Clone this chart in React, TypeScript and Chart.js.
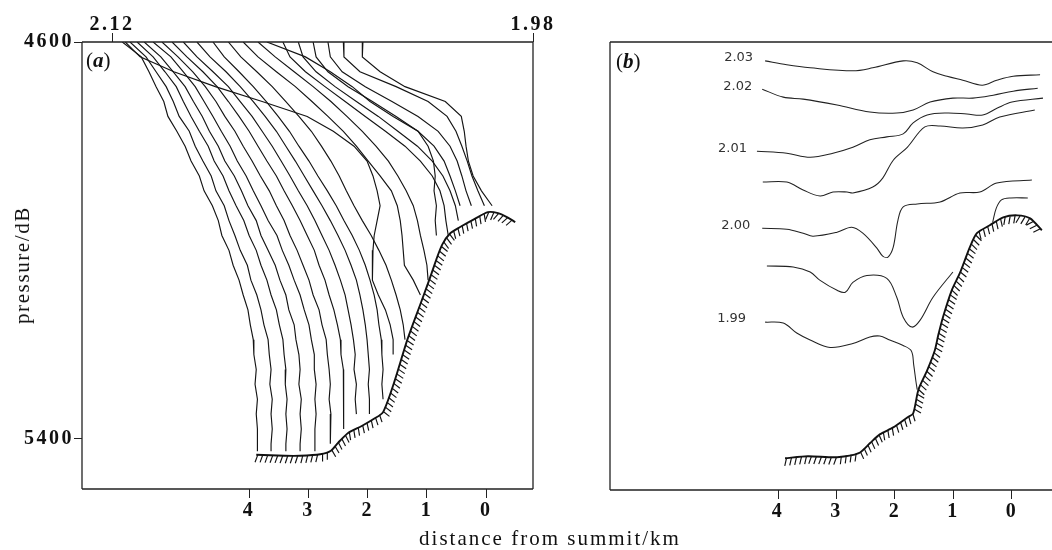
import React, { useEffect, useRef } from 'react';
import { Chart, registerables } from 'chart.js';

Chart.register(...registerables);

// ---------- Panel (a): pressure levels shared by the profiles (dB) ----------
const pressureLevels = [4600, 4630, 4660, 4690, 4720, 4750, 4780, 4810, 4840, 4870, 4900, 4930, 4960, 4990,
  5020, 5050, 5080, 5110, 5140, 5170, 5200, 5230, 5260, 5290, 5320, 5350, 5380, 5410, 5425];

// ---------- Panel (a): profile positions (km from summit) at each pressure level ----------
const profile00 = [6.14, 5.82, 5.69, 5.57, 5.44, 5.37, 5.22, 5.08, 4.98, 4.84, 4.76, 4.62, 4.52, 4.46, 4.34, 4.27, 4.17, 4.10, 4.02, 3.98, 3.93, 3.92, 3.88, 3.90, 3.86, 3.88, 3.86, 3.86, 3.86];
const profile01 = [6.01, 5.74, 5.57, 5.40, 5.28, 5.18, 5.01, 4.91, 4.78, 4.64, 4.56, 4.42, 4.34, 4.24, 4.15, 4.03, 3.97, 3.87, 3.80, 3.75, 3.68, 3.66, 3.63, 3.65, 3.61, 3.63, 3.61, 3.63, 3.63];
const profile02 = [5.89, 5.62, 5.42, 5.23, 5.11, 4.98, 4.84, 4.69, 4.59, 4.44, 4.34, 4.22, 4.09, 4.00, 3.88, 3.80, 3.70, 3.63, 3.54, 3.49, 3.43, 3.41, 3.38, 3.39, 3.36, 3.38, 3.36, 3.38, 3.38];
const profile03 = [5.77, 5.49, 5.28, 5.08, 4.94, 4.79, 4.67, 4.52, 4.41, 4.25, 4.13, 4.02, 3.88, 3.80, 3.68, 3.56, 3.48, 3.38, 3.33, 3.24, 3.21, 3.16, 3.14, 3.16, 3.12, 3.14, 3.12, 3.14, 3.14];
const profile04 = [5.62, 5.32, 5.11, 4.91, 4.76, 4.61, 4.47, 4.32, 4.20, 4.05, 3.93, 3.80, 3.68, 3.53, 3.44, 3.33, 3.24, 3.14, 3.07, 2.99, 2.95, 2.90, 2.90, 2.87, 2.89, 2.87, 2.89, 2.89, 2.89];
const profile05 = [5.47, 5.20, 4.95, 4.74, 4.56, 4.41, 4.24, 4.10, 3.95, 3.81, 3.66, 3.54, 3.41, 3.31, 3.19, 3.09, 2.99, 2.92, 2.82, 2.77, 2.70, 2.68, 2.65, 2.63, 2.65, 2.62, 2.63, 2.63];
const profile06 = [5.30, 5.05, 4.78, 4.54, 4.35, 4.17, 4.00, 3.85, 3.70, 3.54, 3.41, 3.27, 3.14, 3.02, 2.90, 2.82, 2.72, 2.65, 2.57, 2.51, 2.46, 2.45, 2.41, 2.41, 2.40, 2.41, 2.40];
const profile07 = [5.11, 4.88, 4.61, 4.35, 4.15, 3.95, 3.78, 3.61, 3.46, 3.31, 3.17, 3.02, 2.89, 2.77, 2.65, 2.55, 2.46, 2.38, 2.33, 2.28, 2.24, 2.21, 2.23, 2.19, 2.21, 2.19];
const profile08 = [4.88, 4.66, 4.39, 4.15, 3.93, 3.73, 3.54, 3.38, 3.22, 3.07, 2.92, 2.77, 2.63, 2.50, 2.38, 2.28, 2.19, 2.13, 2.08, 2.04, 2.01, 1.99, 1.97, 1.99, 1.97, 1.97];
const profile09 = [4.61, 4.42, 4.17, 3.93, 3.71, 3.51, 3.32, 3.16, 2.99, 2.84, 2.68, 2.53, 2.40, 2.26, 2.14, 2.04, 1.96, 1.89, 1.84, 1.81, 1.77, 1.76, 1.74, 1.76, 1.74];
const profile10 = [6.09, 5.84, 5.27, 4.57, 3.78, 3.02, 2.58, 2.23, 2.01, 1.91, 1.84, 1.79, 1.84, 1.89, 1.91, 1.92, 1.92, 1.82, 1.70, 1.62, 1.57, 1.57];
const profile11 = [4.35, 4.14, 3.87, 3.61, 3.38, 3.16, 2.95, 2.78, 2.62, 2.48, 2.36, 2.23, 2.09, 1.94, 1.81, 1.69, 1.60, 1.52, 1.45, 1.40, 1.37];
const profile12 = [4.10, 3.85, 3.54, 3.22, 2.94, 2.67, 2.41, 2.19, 1.99, 1.79, 1.60, 1.50, 1.45, 1.42, 1.40, 1.38, 1.23, 1.11];
const profile13 = [3.85, 3.56, 3.24, 2.92, 2.62, 2.35, 2.09, 1.86, 1.65, 1.49, 1.35, 1.23, 1.16, 1.11, 1.05, 1.00, 0.98];
const profile14 = [3.70, 3.05, 2.63, 2.26, 1.96, 1.57, 1.15, 0.98, 0.89, 0.86, 0.88, 0.84, 0.86, 0.84];
const profile15 = [3.43, 3.31, 3.05, 2.72, 2.38, 2.04, 1.70, 1.37, 1.11, 0.91, 0.78, 0.71, 0.68, 0.64];
const profile16 = [3.17, 3.09, 2.87, 2.55, 2.19, 1.82, 1.49, 1.16, 0.91, 0.73, 0.61, 0.52, 0.47];
const profile17 = [2.92, 2.87, 2.67, 2.33, 1.92, 1.52, 1.15, 0.88, 0.71, 0.61, 0.52, 0.44];
const profile18 = [2.67, 2.63, 2.43, 2.04, 1.59, 1.15, 0.81, 0.61, 0.49, 0.41, 0.34, 0.25];
const profile19 = [2.41, 2.40, 2.13, 1.52, 0.98, 0.66, 0.51, 0.41, 0.32, 0.24, 0.14, 0.03];
const profile20 = [2.08, 2.09, 1.79, 1.37, 0.69, 0.42, 0.37, 0.34, 0.30, 0.22, 0.08, -0.10];

const profilesA = [profile00, profile01, profile02, profile03, profile04, profile05, profile06, profile07,
  profile08, profile09, profile10, profile11, profile12, profile13, profile14, profile15, profile16,
  profile17, profile18, profile19, profile20];

// ---------- Sea floor (km, dB) ----------
const seafloorADist = [3.88, 3.40, 3.14, 2.80, 2.62, 2.50, 2.33, 2.10, 1.90, 1.74, 1.55, 1.33, 1.10, 0.95, 0.84, 0.74, 0.61, 0.44, 0.20, -0.03, -0.20, -0.35, -0.49];
const seafloorAPres = [5432, 5434, 5434, 5431, 5424, 5408, 5388, 5374, 5360, 5346, 5285, 5200, 5125, 5076, 5038, 5008, 4986, 4973, 4957, 4943, 4945, 4953, 4963];
const seafloorBDist = [3.88, 3.49, 2.99, 2.62, 2.43, 2.26, 2.03, 1.79, 1.69, 1.60, 1.45, 1.32, 1.26, 1.18, 1.03, 0.89, 0.72, 0.60, 0.38, 0.15, -0.09, -0.31, -0.51];
const seafloorBPres = [5438, 5434, 5436, 5428, 5408, 5390, 5376, 5356, 5348, 5300, 5261, 5221, 5190, 5154, 5100, 5065, 5013, 4985, 4969, 4953, 4949, 4955, 4979];

// ---------- Panel (b): potential temperature contours [km, dB] ----------
const contour203 = [[4.22, 4638], [3.85, 4646], [3.45, 4652], [2.72, 4658], [2.38, 4652], [1.86, 4638], [1.62, 4642], [1.35, 4660], [1.11, 4669], [0.84, 4677], [0.51, 4687], [0.26, 4677], [-0.02, 4669], [-0.48, 4666]];
const contour202 = [[4.27, 4695], [3.91, 4711], [3.57, 4715], [2.99, 4727], [2.43, 4741], [1.97, 4743], [1.69, 4737], [1.40, 4721], [1.01, 4713], [0.67, 4713], [0.32, 4707], [-0.02, 4699], [-0.44, 4693]];
const contour201 = [[4.36, 4820], [3.85, 4824], [3.45, 4832], [3.06, 4824], [2.72, 4812], [2.43, 4797], [2.14, 4791], [1.86, 4785], [1.69, 4763], [1.45, 4747], [1.11, 4743], [0.77, 4745], [0.50, 4747], [0.25, 4733], [0.00, 4721], [-0.53, 4713]];
const contour2005 = [[4.26, 4882], [3.85, 4882], [3.57, 4898], [3.28, 4910], [3.06, 4902], [2.82, 4902], [2.72, 4904], [2.38, 4892], [2.21, 4874], [2.03, 4838], [1.79, 4812], [1.49, 4771], [1.23, 4769], [0.84, 4773], [0.50, 4767], [0.21, 4751], [-0.39, 4737]];
const contour200 = [[4.27, 4975], [3.85, 4977], [3.57, 4985], [3.40, 4991], [2.99, 4983], [2.74, 4973], [2.55, 4985], [2.31, 5015], [2.21, 5031], [2.12, 5033], [2.03, 5013], [1.95, 4959], [1.86, 4932], [1.62, 4926], [1.23, 4922], [0.89, 4904], [0.55, 4902], [0.26, 4884], [-0.34, 4878]];
const contour200Summit = [[0.33, 4963], [0.27, 4935], [0.18, 4918], [0.02, 4914], [-0.27, 4914]];
const contour1995 = [[4.19, 5051], [3.74, 5053], [3.45, 5063], [3.28, 5080], [2.99, 5100], [2.85, 5104], [2.72, 5084], [2.48, 5070], [2.14, 5076], [1.97, 5114], [1.86, 5154], [1.71, 5174], [1.57, 5160], [1.35, 5114], [1.01, 5063]];
const contour199 = [[4.22, 5164], [3.91, 5166], [3.68, 5186], [3.45, 5200], [3.11, 5215], [2.72, 5207], [2.43, 5194], [2.26, 5192], [2.09, 5200], [1.86, 5211], [1.72, 5222], [1.68, 5250], [1.64, 5285], [1.62, 5300]];

const contoursB = [contour203, contour202, contour201, contour2005, contour200, contour200Summit, contour1995, contour199];
const contourLabelsB = ['2.03', '2.02', '2.01', '', '2.00', '', '', '1.99'];
const contourLabelGaps = [12, 10, 10, 0, 12, 0, 0, 19];

// ---------- Tick values ----------
const distanceTicks = [4, 3, 2, 1, 0];
const pressureTicks = [4600, 5400];
const topScaleTicks = [2.12, 1.98];

// ---------- styling ----------
const SERIF = "'Liberation Serif', 'Times New Roman', serif";
const tickFont = { family: SERIF, size: 20, weight: 'bold' as const };
const INK = '#141414';

const spacingPlugin = {
  id: 'tickSpacing',
  beforeDraw(chart: any) {
    chart.ctx.letterSpacing = '2.5px';
  },
};

function makeFramePlugin(sides: string[]) {
  return {
    id: 'frame',
    afterDatasetsDraw(chart: any) {
      const { ctx, chartArea: a } = chart;
      ctx.save();
      ctx.strokeStyle = '#222';
      ctx.lineWidth = 1.3;
      ctx.beginPath();
      if (sides.includes('top')) { ctx.moveTo(a.left, a.top); ctx.lineTo(a.right, a.top); }
      if (sides.includes('left')) { ctx.moveTo(a.left, a.top); ctx.lineTo(a.left, a.bottom); }
      if (sides.includes('bottom')) { ctx.moveTo(a.left, a.bottom); ctx.lineTo(a.right, a.bottom); }
      if (sides.includes('right')) { ctx.moveTo(a.right, a.top); ctx.lineTo(a.right, a.bottom); }
      ctx.stroke();
      ctx.restore();
    },
  };
}

const hatchPlugin = {
  id: 'hatch',
  afterDatasetsDraw(chart: any) {
    const ctx = chart.ctx;
    chart.data.datasets.forEach((ds: any, i: number) => {
      if (!ds.hatch) return;
      const pts = chart.getDatasetMeta(i).data;
      ctx.save();
      ctx.strokeStyle = '#111';
      ctx.lineWidth = 1.15;
      const spacing = 5, len = 7.5, lean = 2.4;
      let carry = 1.5;
      for (let k = 0; k < pts.length - 1; k++) {
        const ax = pts[k].x, ay = pts[k].y, bx = pts[k + 1].x, by = pts[k + 1].y;
        const seg = Math.hypot(bx - ax, by - ay);
        if (seg === 0) continue;
        const dx = (bx - ax) / seg, dy = (by - ay) / seg;
        const nx = -dy, ny = dx;
        let t = carry;
        while (t <= seg) {
          const px = ax + dx * t, py = ay + dy * t;
          ctx.beginPath();
          ctx.moveTo(px, py);
          ctx.lineTo(px + nx * len - dx * lean, py + ny * len - dy * lean);
          ctx.stroke();
          t += spacing;
        }
        carry = t - seg;
      }
      ctx.restore();
    });
  },
};

const contourLabelPlugin = {
  id: 'contourLabels',
  afterDatasetsDraw(chart: any) {
    const ctx = chart.ctx;
    chart.data.datasets.forEach((ds: any, i: number) => {
      if (!ds.contourLabel) return;
      const p = chart.getDatasetMeta(i).data[0];
      ctx.save();
      ctx.letterSpacing = '0px';
      ctx.font = "13px 'DejaVu Sans', sans-serif";
      ctx.fillStyle = '#333';
      ctx.textAlign = 'right';
      ctx.textBaseline = 'middle';
      ctx.fillText(ds.contourLabel, p.x - ds.labelGap, p.y - 3);
      ctx.restore();
    });
  },
};

function bottomAxis(min: number, max: number, height: number) {
  return {
    type: 'linear', position: 'bottom', min, max, reverse: true,
    afterBuildTicks: (s: any) => { s.ticks = distanceTicks.map((v) => ({ value: v })); },
    afterFit: (s: any) => { s.height = height; },
    grid: { drawOnChartArea: false, drawTicks: true, tickLength: 9, tickColor: '#222', tickWidth: 1 },
    border: { display: false },
    ticks: { font: tickFont, color: '#111', padding: 1, autoSkip: false, maxRotation: 0, callback: (v: any) => String(v) },
  };
}

function buildConfigA() {
  const datasets: any[] = profilesA.map((p) => ({
    data: p.map((x, i) => ({ x, y: pressureLevels[i] })),
    borderColor: INK, borderWidth: 1.15, pointRadius: 0, tension: 0, fill: false,
  }));
  datasets.push({
    data: seafloorADist.map((x, i) => ({ x, y: seafloorAPres[i] })),
    borderColor: '#111', borderWidth: 1.9, pointRadius: 0, tension: 0.25, fill: false, hatch: true,
  });
  return {
    type: 'line',
    data: { datasets },
    options: {
      animation: false, responsive: false, events: [],
      layout: { padding: { left: 0, right: 27, top: 0, bottom: 0 } },
      plugins: { legend: { display: false }, tooltip: { enabled: false } },
      scales: {
        x: bottomAxis(-0.79, 6.82, 61),
        x2: {
          type: 'linear', position: 'top', min: 1.98, max: 2.13, reverse: true,
          afterBuildTicks: (s: any) => { s.ticks = topScaleTicks.map((v) => ({ value: v })); },
          afterFit: (s: any) => { s.height = 42; },
          grid: { drawOnChartArea: false, drawTicks: true, tickLength: 9, tickColor: '#222', tickWidth: 1 },
          border: { display: false },
          ticks: { font: tickFont, color: '#111', padding: -4, autoSkip: false, maxRotation: 0, callback: (v: any) => Number(v).toFixed(2) },
        },
        y: {
          type: 'linear', position: 'left', min: 4600, max: 5501, reverse: true,
          afterBuildTicks: (s: any) => { s.ticks = pressureTicks.map((v) => ({ value: v })); },
          afterFit: (s: any) => { s.width = 82; },
          grid: { drawOnChartArea: false, drawTicks: true, tickLength: 8, tickColor: '#222', tickWidth: 1 },
          border: { display: false },
          ticks: { font: tickFont, color: '#111', padding: 0, autoSkip: false, callback: (v: any) => String(v) },
        },
      },
    },
    plugins: [spacingPlugin, hatchPlugin, makeFramePlugin(['top', 'left', 'bottom', 'right'])],
  };
}

function buildConfigB() {
  const datasets: any[] = contoursB.map((c, i) => ({
    data: c.map(([x, y]) => ({ x, y })),
    borderColor: '#222', borderWidth: 1.05, pointRadius: 0, tension: 0.35, fill: false,
    contourLabel: contourLabelsB[i], labelGap: contourLabelGaps[i],
  }));
  datasets.push({
    data: seafloorBDist.map((x, i) => ({ x, y: seafloorBPres[i] })),
    borderColor: '#111', borderWidth: 1.9, pointRadius: 0, tension: 0.25, fill: false, hatch: true,
  });
  return {
    type: 'line',
    data: { datasets },
    options: {
      animation: false, responsive: false, events: [],
      layout: { padding: { left: 50, right: 0, top: 42, bottom: 0 } },
      plugins: { legend: { display: false }, tooltip: { enabled: false } },
      scales: {
        x: bottomAxis(-0.684, 6.872, 60),
        y: { type: 'linear', display: false, min: 4600, max: 5502, reverse: true },
      },
    },
    plugins: [spacingPlugin, hatchPlugin, contourLabelPlugin, makeFramePlugin(['top', 'left', 'bottom'])],
  };
}

function ChartCanvas({ build, left, width }: { build: () => any; left: number; width: number }) {
  const ref = useRef<HTMLCanvasElement>(null);
  useEffect(() => {
    const chart = new Chart(ref.current as HTMLCanvasElement, build());
    return () => chart.destroy();
  }, []);
  return (
    <canvas
      ref={ref}
      width={width}
      height={550}
      style={{ position: 'absolute', left, top: 0, width, height: 550 }}
    />
  );
}

export default function App() {
  const serifText: React.CSSProperties = { fontFamily: SERIF, color: '#111', whiteSpace: 'nowrap' };
  return (
    <div style={{ position: 'absolute', left: 0, top: 0, width: 1052, height: 550, background: '#fff', overflow: 'hidden' }}>
      <ChartCanvas build={buildConfigA} left={0} width={560} />
      <ChartCanvas build={buildConfigB} left={560} width={492} />
      <div style={{ ...serifText, position: 'absolute', left: 86, top: 49, fontSize: 21, lineHeight: '22px' }}>
        (<b><i>a</i></b>)
      </div>
      <div style={{ ...serifText, position: 'absolute', left: 616, top: 50, fontSize: 21, lineHeight: '22px' }}>
        (<b><i>b</i></b>)
      </div>
      <div
        style={{
          ...serifText, position: 'absolute', left: 22, top: 265, fontSize: 21, lineHeight: '22px',
          letterSpacing: '1.6px', transform: 'translate(-50%, -50%) rotate(-90deg)',
        }}
      >
        pressure/dB
      </div>
      <div
        style={{
          ...serifText, position: 'absolute', left: 550, top: 527, fontSize: 21, lineHeight: '22px',
          letterSpacing: '2px', transform: 'translateX(-50%)',
        }}
      >
        distance from summit/km
      </div>
    </div>
  );
}
